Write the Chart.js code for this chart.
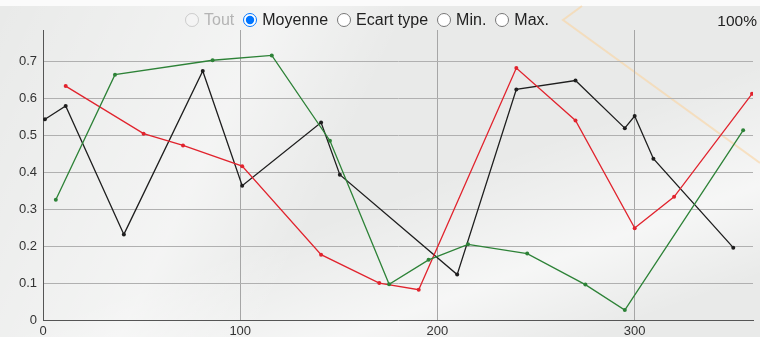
<!DOCTYPE html>
<html>
<head>
<meta charset="utf-8">
<script src="https://cdn.jsdelivr.net/npm/chart.js@4"></script>
<style>
  html, body { margin: 0; padding: 0; }
  body { width: 760px; height: 337px; overflow: hidden; position: relative; background: #fbfbfb; }
  #fond {
    position: absolute; left: 0; top: 6px; width: 760px; height: 331px;
    background:
      linear-gradient(115deg, rgba(255,255,255,0) 0%, rgba(255,255,255,0.5) 30%, rgba(255,255,255,0) 45%),
      linear-gradient(160deg, rgba(255,255,255,0) 55%, rgba(255,255,255,0.6) 75%, rgba(255,255,255,0) 90%),
      #e9eae9;
  }
  #choix {
    position: absolute; left: 185px; top: 11px; font-family: Arial, "Liberation Sans", sans-serif;
    font-size: 16px; color: #222; white-space: nowrap;
  }
  #choix label { margin-right: 9px; }
  #choix input { margin: 0 5px 0 0; vertical-align: -2px; width: 14px; height: 14px; }
  #choix .off { color: #b4b4b4; }
  #pct {
    position: absolute; right: 3px; top: 12px; font-family: Arial, "Liberation Sans", sans-serif;
    font-size: 15.5px; color: #222;
  }
  canvas { position: absolute; left: 0; top: 0; }
</style>
</head>
<body>
<div id="fond"></div>
<canvas id="graphique" width="760" height="337"></canvas>
<div id="choix"><label class="off"><input type="radio" name="stat" disabled>Tout</label><label><input type="radio" name="stat" checked>Moyenne</label><label><input type="radio" name="stat">Ecart type</label><label><input type="radio" name="stat">Min.</label><label><input type="radio" name="stat">Max.</label></div>
<div id="pct">100%</div>
<script>
// Valeurs
var noirX = [1, 11.5, 41, 81, 101, 141, 150.5, 210, 240, 270, 295, 300, 309.5, 350];
var noirY = [0.544, 0.58, 0.232, 0.675, 0.364, 0.535, 0.394, 0.123, 0.625, 0.649, 0.52, 0.553, 0.437, 0.196];

var rougeX = [11.5, 51, 71, 101, 141, 170.5, 190.5, 240, 270, 300, 320, 359.5];
var rougeY = [0.634, 0.505, 0.473, 0.417, 0.177, 0.1, 0.082, 0.683, 0.541, 0.249, 0.334, 0.613];

var vertX = [6.5, 36.5, 86, 116, 145.5, 175.5, 195.5, 215.5, 245.5, 275, 295, 355];
var vertY = [0.326, 0.665, 0.704, 0.717, 0.486, 0.097, 0.163, 0.205, 0.18, 0.096, 0.027, 0.514];

var ticksX = [0, 100, 200, 300];
var ticksY = [0, 0.1, 0.2, 0.3, 0.4, 0.5, 0.6, 0.7];

function points(xs, ys) {
  return xs.map(function(x, i) { return { x: x, y: ys[i] }; });
}

function serie(xs, ys, couleur) {
  return {
    data: points(xs, ys),
    borderColor: couleur,
    backgroundColor: couleur,
    borderWidth: 1.3,
    pointRadius: 2,
    pointBorderWidth: 0,
    tension: 0,
    fill: false
  };
}

// trait décoratif du fond (carte en arrière-plan)
var fondDeco = {
  id: 'fondDeco',
  beforeDraw: function(chart) {
    var ctx = chart.ctx;
    ctx.save();
    ctx.strokeStyle = 'rgba(250,212,160,0.6)';
    ctx.lineWidth = 2;
    ctx.beginPath();
    ctx.moveTo(582, 6);
    ctx.lineTo(563, 20);
    ctx.lineTo(760, 163);
    ctx.stroke();
    ctx.restore();
  }
};

var police = { family: 'Arial, "Liberation Sans", sans-serif', size: 13 };

new Chart(document.getElementById('graphique'), {
  type: 'line',
  data: {
    datasets: [
      serie(vertX, vertY, 'rgb(45,130,55)'),
      serie(rougeX, rougeY, 'rgb(225,35,45)'),
      serie(noirX, noirY, 'rgb(30,30,30)')
    ]
  },
  options: {
    responsive: false,
    animation: false,
    layout: { padding: { top: 30, right: 7, left: 0, bottom: 0 } },
    plugins: { legend: { display: false }, tooltip: { enabled: false } },
    scales: {
      x: {
        type: 'linear',
        min: 0,
        max: 360,
        border: { color: '#555', width: 1 },
        grid: {
          drawTicks: false,
          color: function(c) { return c.tick && c.tick.value === 0 ? 'rgba(0,0,0,0)' : '#a6a6a6'; }
        },
        afterBuildTicks: function(s) { s.ticks = ticksX.map(function(v) { return { value: v }; }); },
        afterFit: function(s) { s.height = 17; },
        ticks: { padding: 4, color: '#333', font: police, maxRotation: 0 }
      },
      y: {
        min: 0,
        max: 0.786,
        border: { color: '#555', width: 1 },
        grid: {
          drawTicks: false,
          color: function(c) { return c.tick && c.tick.value === 0 ? 'rgba(0,0,0,0)' : '#b0b0b0'; }
        },
        afterBuildTicks: function(s) { s.ticks = ticksY.map(function(v) { return { value: v }; }); },
        afterFit: function(s) { s.width = 43; },
        ticks: {
          padding: 6, color: '#333', font: police,
          callback: function(v) { return v === 0 ? '0' : v.toFixed(1); }
        }
      }
    }
  },
  plugins: [fondDeco]
});
</script>
</body>
</html>
